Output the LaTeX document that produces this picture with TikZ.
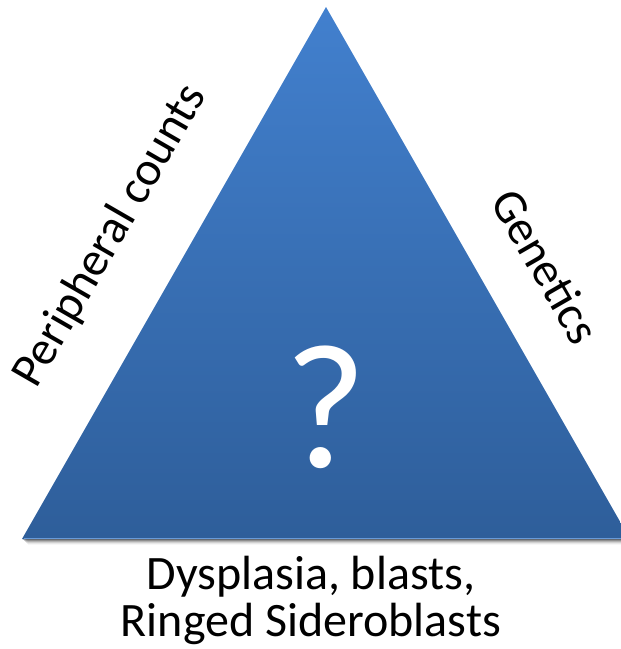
\documentclass[tikz,border=0pt]{standalone}
\usepackage{fontspec}
\setmainfont{Carlito}
\definecolor{topblue}{RGB}{66,128,206}
\definecolor{botblue}{RGB}{46,94,154}
\tikzset{
  sidelabel/.style={font=\fontsize{48}{50}\selectfont, text=black, inner sep=0pt},
  bottomlabel/.style={font=\fontsize{48}{47}\selectfont, text=black, align=center, inner sep=0pt},
  qmark/.style={font=\fontsize{178}{180}\selectfont, text=white, inner sep=0pt}
}
\begin{document}
\begin{tikzpicture}[x=1pt,y=-1pt]
\useasboundingbox (0,0) rectangle (621,649);
\begin{scope}
\clip (0,0) rectangle (621,649);
% shadow
\foreach \i/\o in {1/0.25,2/0.2,3/0.15,4/0.1,5/0.06,6/0.03}{
  \fill[black,opacity=\o] (22+\i,539) rectangle (640,539+\i);
}
\shade[top color=topblue,bottom color=botblue] (326,7) -- (630,539) -- (22,539) -- cycle;
\draw[topblue!80!white,line width=0.8pt] (24,538.5) -- (630,538.5);
\end{scope}
\coordinate (apex) at (326,7);
\node[qmark] (q) at (326,407) {?};
\node[sidelabel,rotate=60] (pc) at (111,236) {Peripheral counts};
\node[sidelabel,rotate=-60] (gen) at (546,266) {Genetics};
\node[bottomlabel] (bot) at (311,600) {Dysplasia, blasts,\\Ringed Sideroblasts};
\end{tikzpicture}
\end{document}
